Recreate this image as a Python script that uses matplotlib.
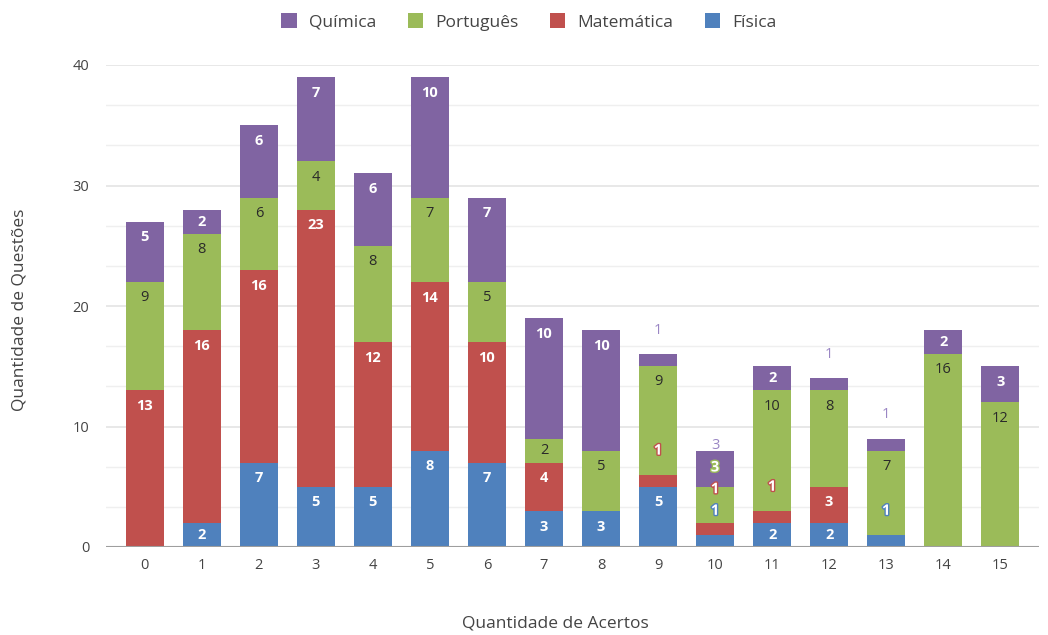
import matplotlib.pyplot as plt
import matplotlib.patheffects as pe
import numpy as np

plt.rcParams['font.family'] = ['Open Sans', 'DejaVu Sans']

acertos = list(range(16))
fisica = [0, 2, 7, 5, 5, 8, 7, 3, 3, 5, 1, 2, 2, 1, 0, 0]
matematica = [13, 16, 16, 23, 12, 14, 10, 4, 0, 1, 1, 1, 3, 0, 0, 0]
portugues = [9, 8, 6, 4, 8, 7, 5, 2, 5, 9, 3, 10, 8, 7, 16, 12]
quimica = [5, 2, 6, 7, 6, 10, 7, 10, 10, 1, 3, 2, 1, 1, 2, 3]

# (nome, valores, cor da barra, cor do texto interno, peso, cor do texto externo)
series = [
    ('Física', fisica, '#4f81bd', 'white', 'bold', '#6d95c9'),
    ('Matemática', matematica, '#c0504d', 'white', 'bold', '#cd716e'),
    ('Português', portugues, '#9bbb59', '#2a2a2a', 'normal', '#9bbb59'),
    ('Química', quimica, '#8064a2', 'white', 'bold', '#9a86c4'),
]

fig = plt.figure(figsize=(10.48, 6.35), dpi=100)
ax = fig.add_axes([106 / 1048, 1 - 547 / 635, (1039 - 106) / 1048, (547 - 65) / 635])

bottoms = np.zeros(len(acertos))
handles = {}
for name, vals, color, _, _, _ in series:
    handles[name] = ax.bar(acertos, vals, 0.66, bottom=bottoms, color=color,
                           label=name, zorder=3)
    bottoms += np.array(vals)

# rótulos de dados (deslocados quando o segmento é pequeno demais)
for i in acertos:
    total = sum(s[1][i] for s in series)
    base = 0
    prev = -99
    for name, vals, color, txt, weight, out_txt in series:
        v = vals[i]
        if v == 0:
            continue
        top = base + v
        if v >= 1.5:
            y = max(base + v / 2, top - 1.3)
        else:
            y = top + 2
        y = max(y, prev + 1.8)
        prev = y
        if y > total:
            ax.text(i, y, str(v), ha='center', va='center', fontsize=10.5,
                    color=out_txt, zorder=5)
        elif y < top:
            ax.text(i, y, str(v), ha='center', va='center', fontsize=10.5,
                    color=txt, fontweight=weight, zorder=5)
        else:
            ax.text(i, y, str(v), ha='center', va='center', fontsize=10.5,
                    color='white', fontweight='bold', zorder=5,
                    path_effects=[pe.withStroke(linewidth=2, foreground=color)])
        base = top

ax.set_xlim(-0.68, 15.68)
ax.set_ylim(0, 40)
ax.set_xticks(acertos)
ax.set_yticks([0, 10, 20, 30, 40])
ax.set_yticks(np.arange(0, 40, 10 / 3), minor=True)
ax.grid(axis='y', which='major', color='#e4e4e4', linewidth=1.2, zorder=0)
ax.grid(axis='y', which='minor', color='#efefef', linewidth=1.0, zorder=0)
ax.axhline(0, color='#9e9e9e', linewidth=1.5, zorder=4)
for s in ax.spines.values():
    s.set_visible(False)
ax.tick_params(axis='both', which='both', length=0, labelsize=10.5, colors='#444444')
ax.tick_params(axis='y', pad=12)
ax.tick_params(axis='x', pad=8)

fig.text(20 / 1048, 1 - 310 / 635, 'Quantidade de Questões', rotation=90,
         ha='center', va='center', fontsize=12.5, color='#444444')
fig.text(555 / 1048, 1 - 623 / 635, 'Quantidade de Acertos',
         ha='center', va='center', fontsize=12.5, color='#444444')

order = ['Química', 'Português', 'Matemática', 'Física']
fig.legend([handles[n] for n in order], order, loc='center',
           bbox_to_anchor=(529 / 1048, 1 - 22 / 635), ncol=4, frameon=False,
           fontsize=12.5, handlelength=0.9, handleheight=0.9, columnspacing=1.8,
           handletextpad=0.7, labelcolor='#444444')

fig.savefig('out.png', dpi=100)
